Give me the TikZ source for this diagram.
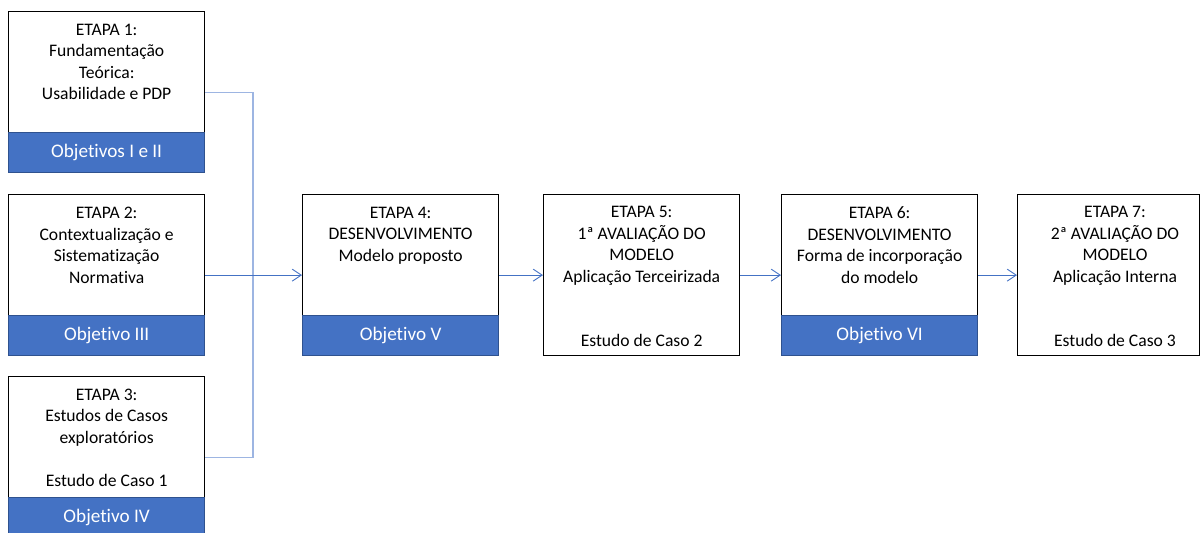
\documentclass[tikz,border=0pt]{standalone}
\usepackage{fontspec}
\setmainfont{Carlito}[Ligatures=NoCommon]
\usetikzlibrary{arrows.meta}
\definecolor{bandblue}{HTML}{4472C4}
\definecolor{banddark}{HTML}{2F528F}
\definecolor{linkblue}{HTML}{4472C4}
\definecolor{linklight}{HTML}{9DB5E2}

\begin{document}
\begin{tikzpicture}[x=1pt,y=-1pt,
  frame/.style={draw=black, line width=1.3pt, fill=white, rectangle, inner sep=0pt,
    minimum width=196pt, minimum height=161pt, anchor=north west},
  band/.style={draw=banddark, line width=1.3pt, fill=bandblue, rectangle, inner sep=0pt,
    minimum width=196pt, minimum height=40pt, anchor=south west, text=white,
    font=\fontsize{19.2}{23}\selectfont},
  stagetext/.style={anchor=north, align=center, inner sep=0pt,
    font=\fontsize{17.6}{21.5}\selectfont},
  link/.style={draw=linkblue, line width=0.9pt, -{Straight Barb[length=9pt,width=12pt]}},
  bracket/.style={draw=linklight, line width=1.3pt}
]
\useasboundingbox (0,0) rectangle (1200,533);

% stage frames
\node[frame] (e1) at (8,11) {};
\node[frame] (e2) at (8,194) {};
\node[frame] (e3) at (8,376) {};
\node[frame] (e4) at (302,194) {};
\node[frame] (e5) at (543,194) {};
\node[frame] (e6) at (781,194) {};
\node[frame, minimum width=182pt] (e7) at (1017,194) {};

% objective bands
\node[band] (b1) at (e1.south west) {Objetivos I e II};
\node[band] (b2) at (e2.south west) {Objetivo III};
\node[band] (b3) at (e3.south west) {Objetivo IV};
\node[band] (b4) at (e4.south west) {Objetivo V};
\node[band] (b6) at (e6.south west) {Objetivo VI};

% stage descriptions
\node[stagetext] (t1) at ([yshift=-12.5pt]e1.north)
  {ETAPA 1:\\Fundamentação\\Teórica:\\Usabilidade e PDP};
\node[stagetext] (t2) at ([yshift=-13pt]e2.north)
  {ETAPA 2:\\Contextualização e\\Sistematização\\Normativa};
\node[stagetext] (t3) at ([yshift=-12.5pt]e3.north)
  {ETAPA 3:\\Estudos de Casos\\exploratórios\\[21.5pt]Estudo de Caso 1};
\node[stagetext] (t4) at ([yshift=-12.5pt]e4.north)
  {ETAPA 4:\\DESENVOLVIMENTO\\Modelo proposto};
\node[stagetext] (t5) at ([yshift=-12.5pt]e5.north)
  {ETAPA 5:\\1ª AVALIAÇÃO DO\\MODELO\\Aplicação Terceirizada\\[43pt]Estudo de Caso 2};
\node[stagetext] (t6) at ([yshift=-12.5pt]e6.north)
  {ETAPA 6:\\DESENVOLVIMENTO\\Forma de incorporação\\do modelo};
\node[stagetext] (t7) at (1115,206.5)
  {ETAPA 7:\\2ª AVALIAÇÃO DO\\MODELO\\Aplicação Interna\\[43pt]Estudo de Caso 3};

% connectors
\coordinate (j) at (253,0);
\draw[bracket] (e1.east) -| (j |- e3.east) -- (e3.east);
\draw[link] (e2.east) -- (e4.west);
\draw[link] (e4.east) -- (e5.west);
\draw[link] (e5.east) -- (e6.west);
\draw[link] (e6.east) -- (e7.west);
\end{tikzpicture}
\end{document}
